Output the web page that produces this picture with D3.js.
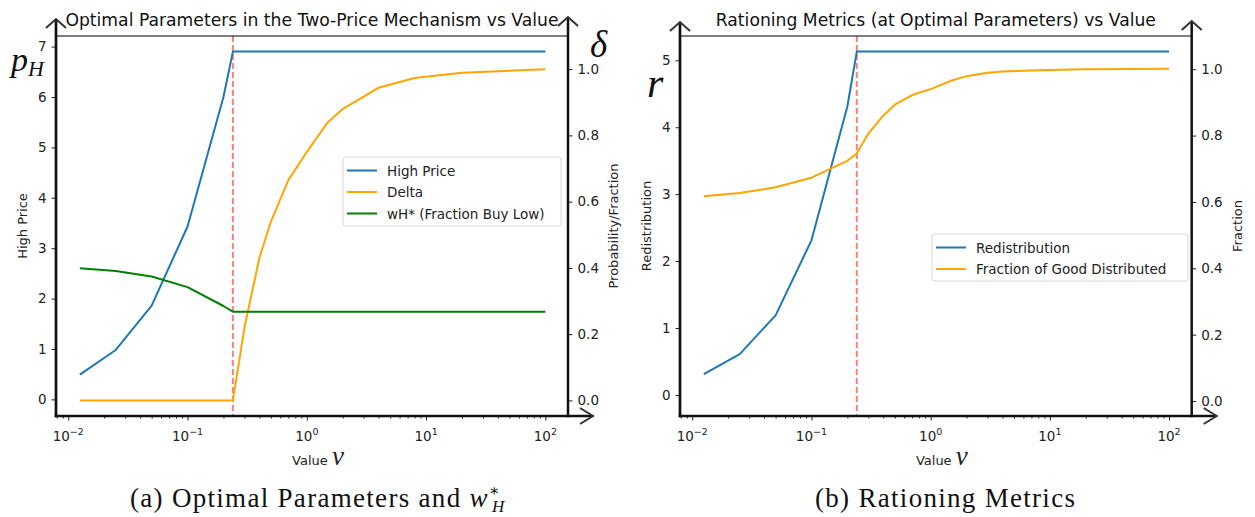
<!DOCTYPE html>
<html><head><meta charset="utf-8">
<script src="https://cdn.jsdelivr.net/npm/d3@7"></script>
<style>body{margin:0;background:#fff} svg{display:block}</style>
</head><body><svg id="c" width="1255" height="517" font-family="DejaVu Sans, sans-serif"></svg>
<script>
// ---------------- data ----------------
const values = [0.0125, 0.025, 0.05, 0.1, 0.2, 0.24, 0.3, 0.4, 0.5, 0.7, 1, 1.5, 2, 3, 4, 8, 20, 100];
const highPrice = [0.49, 0.98, 1.86, 3.43, 6.0, 6.9, 6.9, 6.9, 6.9, 6.9, 6.9, 6.9, 6.9, 6.9, 6.9, 6.9, 6.9, 6.9];
const delta = [0, 0, 0, 0, 0, 0, 0.22, 0.43, 0.54, 0.665, 0.75, 0.84, 0.88, 0.917, 0.944, 0.973, 0.989, 1.0];
const wHstar = [0.399, 0.391, 0.374, 0.342, 0.285, 0.268, 0.268, 0.268, 0.268, 0.268, 0.268, 0.268, 0.268, 0.268, 0.268, 0.268, 0.268, 0.268];
const redistribution = [0.31, 0.61, 1.19, 2.31, 4.31, 5.13, 5.13, 5.13, 5.13, 5.13, 5.13, 5.13, 5.13, 5.13, 5.13, 5.13, 5.13, 5.13];
const fractionDistributed = [0.617, 0.627, 0.644, 0.673, 0.724, 0.746, 0.806, 0.86, 0.893, 0.922, 0.94, 0.966, 0.979, 0.989, 0.993, 0.997, 1.0, 1.001];
const threshold = 0.24;
const xMajorTicks = [1e-2, 1e-1, 1, 10, 100];
const xMajorExp = ["\u22122", "\u22121", "0", "1", "2"];
const leftTicksA = [0, 1, 2, 3, 4, 5, 6, 7];
const leftTicksB = [0, 1, 2, 3, 4, 5];
const rightTicks = [0, 0.2, 0.4, 0.6, 0.8, 1.0];
const titles = ["Optimal Parameters in the Two-Price Mechanism vs Value", "Rationing Metrics (at Optimal Parameters) vs Value"];

const svg = d3.select("#c");
const TOP = 36, BOT = 416;
const C = {blue: "#1f77b4", orange: "#ffa500", green: "#008000", red: "#ff7f7f"};
const SERIF = "Liberation Serif, DejaVu Serif, serif";

function chevronUp(x, y) {
  svg.append("path").attr("d", `M${x-10},${y+9}L${x},${y}L${x+10},${y+9}`)
    .attr("fill", "none").attr("stroke", "#333").attr("stroke-width", 2);
}
function chevronRight(x, y) {
  svg.append("path").attr("d", `M${x-13},${y-8}L${x},${y}L${x-13},${y+8}`)
    .attr("fill", "none").attr("stroke", "#333").attr("stroke-width", 2);
}

function panel(o) {
  const x = d3.scaleLog().domain([Math.pow(10, -2.103), Math.pow(10, 2.19)]).range([o.x0, o.x1]);
  const yL = d3.scaleLinear().domain(o.yLdom).range([BOT, TOP]);
  const yR = d3.scaleLinear().domain(o.yRdom).range([BOT, TOP]);
  const g = svg.append("g");

  g.append("line").attr("x1", x(threshold)).attr("x2", x(threshold)).attr("y1", TOP).attr("y2", BOT)
    .attr("stroke", C.red).attr("stroke-width", 2).attr("stroke-dasharray", "6,3");

  o.series.forEach(s => {
    const ys = s.axis === "L" ? yL : yR;
    g.append("path").datum(s.data)
      .attr("d", d3.line().x((d, i) => x(values[i])).y(d => ys(d)))
      .attr("fill", "none").attr("stroke", s.color).attr("stroke-width", 2).attr("stroke-linejoin", "round");
  });

  const minors = [];
  for (let e = -3; e <= 2; e++) for (let m = 2; m <= 9; m++) {
    const v = m * Math.pow(10, e);
    if (v >= x.domain()[0] && v <= x.domain()[1]) minors.push(v);
  }
  const gx = g.append("g").attr("transform", `translate(0,${BOT})`);
  gx.call(d3.axisBottom(x).tickValues(minors).tickSize(2.5).tickFormat(""));
  gx.append("g").call(d3.axisBottom(x).tickValues(xMajorTicks).tickSize(4.5).tickFormat(""));
  gx.selectAll(".domain").remove();
  gx.selectAll("line").attr("stroke", "#222").attr("stroke-width", 1);
  xMajorTicks.forEach((v, i) => {
    const t = g.append("text").attr("x", x(v)).attr("y", 441).attr("text-anchor", "middle")
      .attr("font-size", 13.5).attr("fill", "#222");
    t.append("tspan").text("10");
    t.append("tspan").attr("dy", -6).attr("font-size", 9.5).text(xMajorExp[i]);
  });

  const gl = g.append("g").attr("transform", `translate(${o.x0},0)`)
    .call(d3.axisLeft(yL).tickValues(o.leftTicks).tickSize(4.5).tickPadding(5).tickFormat(d3.format("d")));
  gl.selectAll(".domain").remove();
  gl.selectAll("line").attr("stroke", "#222");
  gl.selectAll("text").attr("font-size", 13.5).attr("fill", "#222").attr("font-family", "DejaVu Sans");
  const gr = g.append("g").attr("transform", `translate(${o.x1},0)`)
    .call(d3.axisRight(yR).tickValues(rightTicks).tickSize(4.5).tickPadding(5).tickFormat(d3.format(".1f")));
  gr.selectAll(".domain").remove();
  gr.selectAll("line").attr("stroke", "#222");
  gr.selectAll("text").attr("font-size", 13.5).attr("fill", "#222").attr("font-family", "DejaVu Sans");

  g.append("line").attr("x1", o.x0).attr("x2", o.x1).attr("y1", TOP).attr("y2", TOP).attr("stroke", "#000").attr("stroke-width", 1.2);
  g.append("line").attr("x1", o.x0).attr("x2", o.x0).attr("y1", o.arrowTopL).attr("y2", BOT + 1.3).attr("stroke", "#111").attr("stroke-width", 2.7);
  g.append("line").attr("x1", o.x1).attr("x2", o.x1).attr("y1", o.arrowTopR).attr("y2", BOT + 1.3).attr("stroke", "#111").attr("stroke-width", 2.5);
  g.append("line").attr("x1", o.x0 - 1.3).attr("x2", o.x1 + 25).attr("y1", BOT).attr("y2", BOT).attr("stroke", "#111").attr("stroke-width", 2.7);
  chevronUp(o.x0, o.arrowTopL);
  chevronUp(o.x1, o.arrowTopR);
  chevronRight(o.x1 + 25, BOT);

  g.append("text").attr("x", (o.x0 + o.x1) / 2).attr("y", 26).attr("text-anchor", "middle")
    .attr("font-size", 17.2).attr("fill", "#111").text(o.title);

  g.append("text").attr("transform", `translate(${o.lblL},226) rotate(-90)`).attr("text-anchor", "middle")
    .attr("font-size", 13).attr("fill", "#222").text(o.leftLabel);
  g.append("text").attr("transform", `translate(${o.lblR},226) rotate(-90)`).attr("text-anchor", "middle")
    .attr("font-size", 13).attr("fill", "#222").text(o.rightLabel);
  const xl = g.append("text").attr("x", (o.x0 + o.x1) / 2 + 6).attr("y", 465).attr("text-anchor", "middle").attr("fill", "#222");
  xl.append("tspan").attr("font-size", 13).text("Value ");
  xl.append("tspan").attr("font-size", 27).attr("font-family", SERIF).attr("font-style", "italic").text("v");

  const lg = g.append("g");
  lg.append("rect").attr("x", o.leg.x).attr("y", o.leg.y).attr("width", o.leg.w).attr("height", o.leg.h)
    .attr("rx", 3).attr("fill", "#fff").attr("fill-opacity", 0.8).attr("stroke", "#d6d6d6");
  o.series.forEach((s, i) => {
    const yy = o.leg.y + 13.5 + i * 21.5;
    lg.append("line").attr("x1", o.leg.x + 4).attr("x2", o.leg.x + 34).attr("y1", yy).attr("y2", yy)
      .attr("stroke", s.color).attr("stroke-width", 2);
    lg.append("text").attr("x", o.leg.x + 44).attr("y", yy + 5).attr("font-size", 13.5).attr("fill", "#222").text(s.name);
  });

  const cap = g.append("text").attr("x", o.capX).attr("y", 507).attr("font-family", SERIF)
    .attr("font-size", 27).attr("letter-spacing", 1.3).attr("fill", "#111");
  o.caption(cap);
  return {x, yL, yR};
}

panel({
  x0: 56, x1: 568, yLdom: [-0.33, 7.21], yRdom: [-0.047, 1.1], leftTicks: leftTicksA,
  arrowTopL: 19, arrowTopR: 17, title: titles[0],
  leftLabel: "High Price", rightLabel: "Probability/Fraction", lblL: 27, lblR: 618,
  series: [
    {name: "High Price", data: highPrice, color: C.blue, axis: "L"},
    {name: "Delta", data: delta, color: C.orange, axis: "R"},
    {name: "wH* (Fraction Buy Low)", data: wHstar, color: C.green, axis: "R"}
  ],
  leg: {x: 343, y: 157, w: 218, h: 69},
  capX: 130,
  caption: t => {
    t.append("tspan").text("(a) Optimal Parameters and ");
    t.append("tspan").attr("font-style", "italic").text("w");
    t.append("tspan").attr("font-size", 16).attr("dy", -11).text("\u2217");
    t.append("tspan").attr("font-size", 17).attr("font-style", "italic").attr("dx", -9).attr("dy", 16).text("H");
  }
});
panel({
  x0: 680, x1: 1191.7, yLdom: [-0.314, 5.363], yRdom: [-0.045, 1.1], leftTicks: leftTicksB,
  arrowTopL: 22, arrowTopR: 21, title: titles[1],
  leftLabel: "Redistribution", rightLabel: "Fraction", lblL: 651, lblR: 1242,
  series: [
    {name: "Redistribution", data: redistribution, color: C.blue, axis: "L"},
    {name: "Fraction of Good Distributed", data: fractionDistributed, color: C.orange, axis: "R"}
  ],
  leg: {x: 932, y: 234, w: 256, h: 47},
  capX: 815,
  caption: t => { t.append("tspan").text("(b) Rationing Metrics"); }
});

const mt = svg.append("g").attr("font-family", SERIF).attr("font-style", "italic").attr("fill", "#111");
const ph = mt.append("text").attr("x", 11).attr("y", 71);
ph.append("tspan").attr("font-size", 34).text("p");
ph.append("tspan").attr("font-size", 22).attr("dy", 5).text("H");
mt.append("text").attr("x", 590).attr("y", 57).attr("font-size", 37).text("\u03b4");
mt.append("text").attr("x", 647).attr("y", 97).attr("font-size", 42).text("r");
</script></body></html>
